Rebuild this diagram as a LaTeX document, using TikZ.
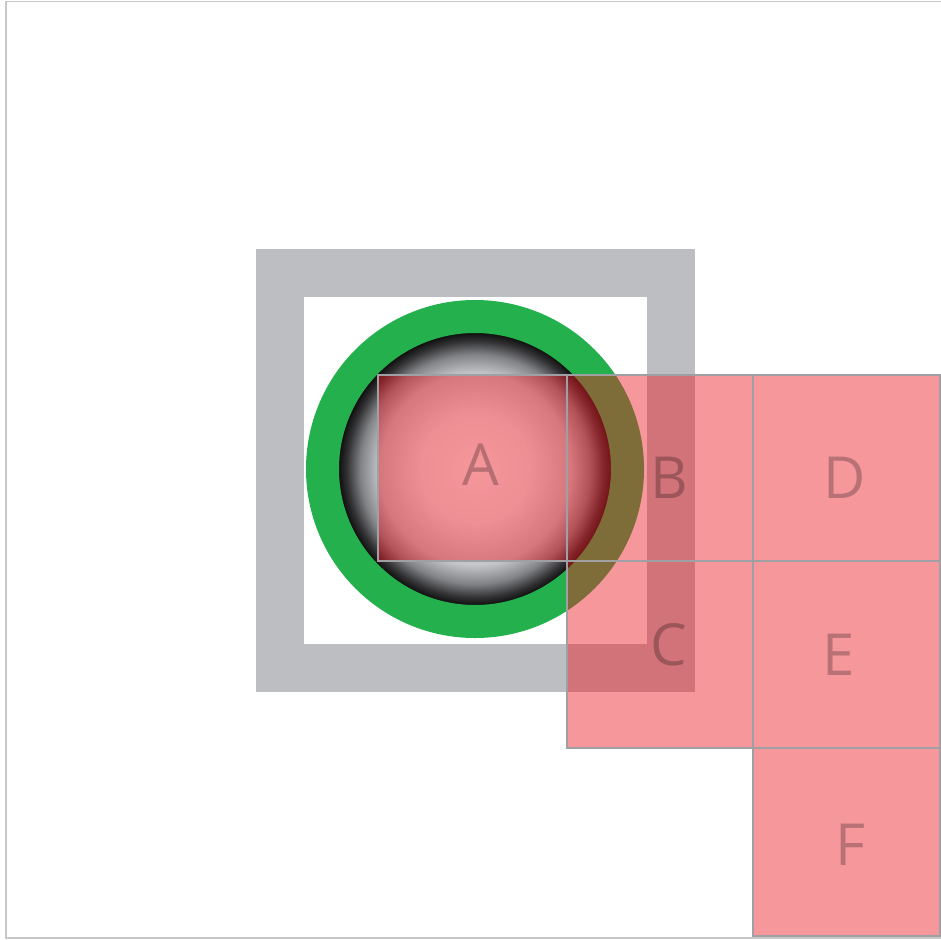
\documentclass[tikz,border=0pt]{standalone}
\usepackage{fontspec}
\setmainfont{Open Sans}
\definecolor{bandgray}{RGB}{188,190,194}
\definecolor{ringgreen}{RGB}{36,177,77}
\definecolor{sqred}{RGB}{236,24,34}
\definecolor{sqline}{RGB}{160,160,164}
\definecolor{framegray}{RGB}{200,200,200}
\definecolor{ballA}{RGB}{240,241,243}
\definecolor{ballB}{RGB}{196,198,202}
\definecolor{ballC}{RGB}{130,131,135}
\definecolor{ballD}{RGB}{50,50,52}
\definecolor{ballE}{RGB}{15,15,15}
\pgfdeclareradialshading{ball}{\pgfpoint{0bp}{0bp}}{color(0bp)=(white); color(10bp)=(ballA); color(17.5bp)=(ballB); color(21bp)=(ballC); color(23.5bp)=(ballD); color(25bp)=(ballE); color(50bp)=(ballE)}
\tikzset{
  framestyle/.style={draw=framegray, line width=1.5pt},
  band/.style={draw=bandgray, line width=48pt},
  ring/.style={draw=ringgreen, line width=33pt},
  cell/.style={rectangle, draw=sqline, line width=1.3pt, fill=sqred, fill opacity=0.45, draw opacity=1, inner sep=0pt},
  lbl/.style={font=\fontsize{58}{60}\selectfont, text=black, text opacity=0.25, inner sep=0pt}
}
\begin{document}
\begin{tikzpicture}[x=1pt,y=-1pt]
\useasboundingbox (0,0) rectangle (941,939);
\coordinate (f1) at (950,1.5);
\coordinate (f2) at (6,1.5);
\coordinate (f3) at (6,938);
\coordinate (f4) at (950,938);
\draw[framestyle] (f1) -- (f2) -- (f3) -- (f4);
% gray square band
\draw[band] (280,273) rectangle (671,668);
% shaded ball
\coordinate (c) at (475,469);
\shade[shading=ball] (c) circle[radius=136.5];
% green ring
\draw[ring] (c) circle[radius=152.5];
% red cells
\node[cell, minimum width=189pt, minimum height=186pt] (A) at (472.5,468) {};
\node[cell, minimum width=186pt, minimum height=186pt] (B) at (660,468) {};
\node[cell, minimum width=186pt, minimum height=187pt] (C) at (660,654.5) {};
\node[cell, minimum width=187pt, minimum height=186pt] (D) at (846.5,468) {};
\node[cell, minimum width=187pt, minimum height=187pt] (E) at (846.5,654.5) {};
\node[cell, minimum width=187pt, minimum height=188pt] (F) at (846.5,842) {};
% labels
\node[lbl] (tA) at (481,465) {A};
\node[lbl] (tB) at (669,478) {B};
\node[lbl] (tC) at (669,645) {C};
\node[lbl] (tD) at (845,478) {D};
\node[lbl] (tE) at (839,655) {E};
\node[lbl] (tF) at (850,845) {F};
\end{tikzpicture}
\end{document}
